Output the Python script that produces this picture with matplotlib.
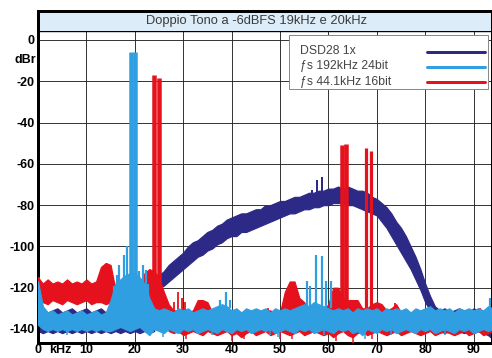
import matplotlib
matplotlib.use("Agg")
import matplotlib.pyplot as plt
from matplotlib.patches import Rectangle
from matplotlib.lines import Line2D

# --- dati -------------------------------------------------------------------
TITLE = "Doppio Tono a -6dBFS 19kHz e 20kHz"
SERIES_LABELS = ["DSD28 1x", "\u0192s 192kHz 24bit", "\u0192s 44.1kHz 16bit"]

# griglia in kHz dei rumori di fondo (un punto per kHz, 0..94)
freq_khz = list(range(0, 95))

# DSD28 1x: banda del rumore (bordo alto / basso), dBr
dsd_upper = [-131, -130, -132, -131, -130, -132, -131, -130, -132, -131,
             -130, -132, -131, -130, -132, -131, -130, -132, -131, -130,
             -132, -131, -130, -132, -131,
             -114, -112, -109, -107, -105, -103, -100, -98, -97, -95,
             -93, -92, -90, -89, -87, -86, -85, -84, -84, -83,
             -82, -82, -80, -80, -79, -78, -78, -77, -76, -76,
             -75, -74, -74, -73, -73, -72, -72, -71, -72, -71,
             -72, -73, -73, -74, -76, -77, -79, -81, -84, -88,
             -91, -95, -100, -105, -111, -118, -124, -129,
             -131, -130, -132, -131, -130, -131, -132, -130, -131, -132,
             -131, -133]
dsd_lower = [-141, -142, -141, -142, -141, -142, -141, -142, -141, -142,
             -141, -142, -141, -142, -141, -142, -141, -142, -141, -142,
             -141, -142, -141, -142, -141,
             -120, -119, -117, -115, -113, -111, -109, -107, -105, -104,
             -102, -101, -99, -98, -96, -95, -95, -93, -93, -92,
             -91, -90, -89, -88, -87, -86, -85, -84, -84, -83,
             -82, -82, -81, -81, -80, -80, -79, -79, -79, -80,
             -80, -81, -82, -83, -84, -85, -88, -91, -95, -99,
             -103, -107, -111, -116, -121, -127, -131, -134,
             -141, -142, -141, -142, -141, -142, -141, -142, -141, -142,
             -143, -145]
dsd_spike_khz = [56.6, 57.6, 58.6]
dsd_spike_db = [-72.7, -67.8, -66.2]

# fs 192kHz 24bit
hr_upper = [-117, -129, -132, -131, -133, -132, -131, -133, -132, -131,
            -133, -132, -131, -133, -132, -126, -118, -116, -114, -113,
            -113, -115, -118, -125, -130, -131, -130, -131, -132, -130,
            -131, -130, -132, -131, -130, -131, -130, -129, -128, -129,
            -131, -130, -132, -130, -131, -130, -131, -130, -132, -130,
            -131, -130, -131, -130, -129, -128, -129, -127, -128, -129,
            -130, -131, -130, -131, -130, -132, -130, -131, -130, -131,
            -130, -132, -130, -131, -130, -131, -130, -132, -130, -131,
            -130, -129, -131, -130, -131, -130, -132, -130, -131, -130,
            -131, -130, -131, -129, -130]
hr_lower = [-138, -140, -141, -140, -141, -140, -141, -140, -141, -140,
            -141, -140, -141, -140, -141, -141, -140, -139, -140, -141,
            -140, -139, -141, -143, -140, -141, -142, -140, -141, -142,
            -140, -141, -140, -142, -141, -140, -141, -142, -140, -141,
            -142, -140, -141, -140, -142, -141, -140, -141, -140, -142,
            -141, -140, -141, -142, -140, -141, -140, -142, -141, -140,
            -141, -142, -140, -141, -140, -142, -141, -143, -140, -141,
            -142, -140, -141, -140, -142, -141, -140, -141, -142, -140,
            -141, -140, -142, -141, -140, -141, -142, -140, -141, -140,
            -142, -141, -140, -141, -140]
hr_tone_khz = [19.2, 20.0]
hr_tone_db = [-5.6, -5.6]
hr_spike_khz = [15.8, 16.3, 16.8, 17.8, 18.4, 20.8, 21.6, 22.3, 22.8,
                37.6, 38.8, 39.7,
                55.5, 56.3, 57.4, 58.6, 59.6, 60.5, 93.4]
hr_spike_db = [-119, -114, -109, -104, -100, -112, -109, -111.5, -118,
               -126, -122, -126,
               -117, -119, -104, -104.5, -117, -117, -125]
hr_dip_khz = [6.0, 25.8, 36.0, 48.0, 49.5, 59.0, 67.5, 73.0, 84.0]
hr_dip_db = [-143, -144, -143, -143, -144, -143, -145, -143, -143]

# fs 44.1kHz 16bit
cd_upper = [-115, -118, -116, -118, -117, -118, -116, -118, -117, -118,
            -116, -118, -117, -110, -108, -109, -121, -122, -121, -122,
            -121, -119, -113, -111, -112, -115, -122, -128, -131, -131,
            -130, -132, -131, -126, -126, -127, -132, -133, -132, -133,
            -132, -133, -132, -133, -132, -133, -132, -131, -131, -133,
            -132, -122, -117, -117, -125, -127, -132, -133, -132, -131,
            -128, -120, -120, -125, -126, -126, -126, -130, -130, -128,
            -127, -128, -131, -130, -128, -132, -133, -132, -133, -132,
            -133, -132, -133, -132, -133, -132, -133, -132, -133, -132,
            -131, -130, -132, -133, -132]
cd_lower = [-126, -127, -128, -126, -127, -128, -126, -127, -128, -127,
            -126, -128, -127, -127, -128, -127, -130, -130, -130, -130,
            -130, -130, -132, -133, -133, -132, -134, -141, -142, -141,
            -143, -142, -141, -142, -143, -141, -142, -143, -142, -141,
            -143, -142, -144, -142, -141, -143, -142, -141, -143, -142,
            -141, -142, -143, -142, -141, -143, -142, -141, -142, -143,
            -142, -144, -142, -141, -143, -144, -142, -141, -143, -142,
            -141, -142, -143, -142, -141, -143, -142, -141, -142, -143,
            -142, -141, -143, -142, -141, -142, -143, -142, -141, -143,
            -142, -141, -143, -142, -141]
cd_tone_khz = [24.0, 24.9, 62.8, 63.6]
cd_tone_db = [-17, -18.5, -51, -50.4]
cd_image_khz = [67.75, 68.75]
cd_image_db = [-52.3, -54]
cd_spike_khz = [0.3, 28.0, 29.0, 29.7, 30.4, 47.5, 73.8, 91.3]
cd_spike_db = [-115, -127, -122, -125, -127, -130, -127.5, -130]
cd_dip_khz = [30.5, 40.0, 42.5, 50.0, 52.5, 61.5, 65.0, 69.0]
cd_dip_db = [-145, -146, -145, -145, -145, -146, -147, -145]

y_ticks = [0, -20, -40, -60, -80, -100, -120, -140]
x_ticks = [0, 10, 20, 30, 40, 50, 60, 70, 80, 90]

# --- stile ------------------------------------------------------------------
W_PX, H_PX = 492, 358
NAVY, SKY, RED = "#2c2a86", "#2f9fe2", "#e5121d"
PX = 0.72  # 1 px in punti a 100 dpi
FONT = ["Liberation Sans", "DejaVu Sans"]


def fig_xy(x_px, y_px):
    return x_px / W_PX, 1 - y_px / H_PX


fig = plt.figure(figsize=(W_PX / 100, H_PX / 100), dpi=100)
ax = fig.add_axes([38 / W_PX, 1 - 343 / H_PX, 453 / W_PX, 312.3 / H_PX])
tax = fig.add_axes([38 / W_PX, 1 - 30.7 / H_PX, 453 / W_PX, 19.7 / H_PX])

# banda del titolo
tax.set_facecolor("#dcedf9")
tax.set_xticks([])
tax.set_yticks([])
for side, sp in tax.spines.items():
    sp.set_color("black")
    sp.set_linewidth(3 * PX if side in ("top", "left") else 1 * PX)
tax.spines["bottom"].set_visible(False)
tax.text(0.483, 0.47, TITLE, transform=tax.transAxes, ha="center", va="center",
         fontsize=9.3, color="#3a3a3a", family=FONT)

# rumori di fondo
ax.fill_between(freq_khz, dsd_lower, dsd_upper, color=NAVY, lw=1.2 * PX, zorder=2)
ax.vlines(dsd_spike_khz, -80, dsd_spike_db, color=NAVY, lw=2 * PX, zorder=2)

ax.fill_between(freq_khz, cd_lower, cd_upper, color=RED, lw=1.2 * PX, zorder=3)
ax.vlines(cd_tone_khz, -130, cd_tone_db, color=RED, lw=4.5 * PX, zorder=3)
ax.vlines(cd_image_khz, -130, cd_image_db, color=RED, lw=3.2 * PX, zorder=3)
ax.vlines(cd_spike_khz, -132, cd_spike_db, color=RED, lw=1.8 * PX, zorder=3)
ax.vlines(cd_dip_khz, -140, cd_dip_db, color=RED, lw=1.5 * PX, zorder=3)

ax.fill_between(freq_khz, hr_lower, hr_upper, color=SKY, lw=1.2 * PX, zorder=4)
ax.vlines(hr_tone_khz, -125, hr_tone_db, color=SKY, lw=4.5 * PX, zorder=4)
ax.vlines(hr_spike_khz, -130, hr_spike_db, color=SKY, lw=2.2 * PX, zorder=4)
ax.vlines(hr_dip_khz, -138, hr_dip_db, color=SKY, lw=1.5 * PX, zorder=4)

# assi e griglia
ax.set_xticks(x_ticks)
ax.set_yticks(y_ticks)
ax.set_xticklabels([str(v) for v in x_ticks])
ax.set_yticklabels([str(v) for v in y_ticks])
ax.tick_params(length=0, labelsize=9, colors="black")
ax.tick_params(axis="y", pad=2.5)
ax.tick_params(axis="x", pad=1)
for lab in ax.get_xticklabels() + ax.get_yticklabels():
    lab.set_fontweight("bold")
    lab.set_family(FONT)
ax.grid(True, color="#222222", lw=0.9 * PX)
ax.set_axisbelow(True)
for side, sp in ax.spines.items():
    sp.set_color("black")
    sp.set_linewidth(3 * PX if side in ("left", "bottom") else 1 * PX)
ax.spines["top"].set_linewidth(1.4 * PX)

ax.annotate("kHz", xy=(4.6, 0), xycoords=("data", "axes fraction"),
            xytext=(0, -1), textcoords="offset points", ha="center", va="top",
            fontsize=9, fontweight="bold", family=FONT)
ax.text(-0.005, -9.5, "dBr", transform=ax.get_yaxis_transform(), ha="right",
        va="center", fontsize=9, fontweight="bold", family=FONT)

# legenda disegnata a mano (testo allineato a sinistra, linee a destra)
x0, y0 = fig_xy(289, 89)
x1, y1 = fig_xy(488, 35)
ax.add_patch(Rectangle((x0, y0), x1 - x0, y1 - y0, transform=fig.transFigure,
                       facecolor="white", edgecolor="#8a8a8a", lw=1 * PX, zorder=6))
for label, color, y_px in zip(SERIES_LABELS, [NAVY, SKY, RED], [51.5, 66.5, 82]):
    tx, ty = fig_xy(300, y_px)
    ax.text(tx, ty, label, transform=fig.transFigure, ha="left", va="center",
            fontsize=8.8, color="#454545", family=FONT, zorder=7)
    lx0, ly = fig_xy(427, y_px)
    lx1, _ = fig_xy(485, y_px)
    ax.add_line(Line2D([lx0, lx1], [ly, ly], transform=fig.transFigure, color=color,
                       lw=3 * PX, solid_capstyle="round", zorder=7))

ax.set_xlim(0, 93.6)
ax.set_ylim(-146.8, 4.5)

fig.savefig("out.png", dpi=100, facecolor="white")
